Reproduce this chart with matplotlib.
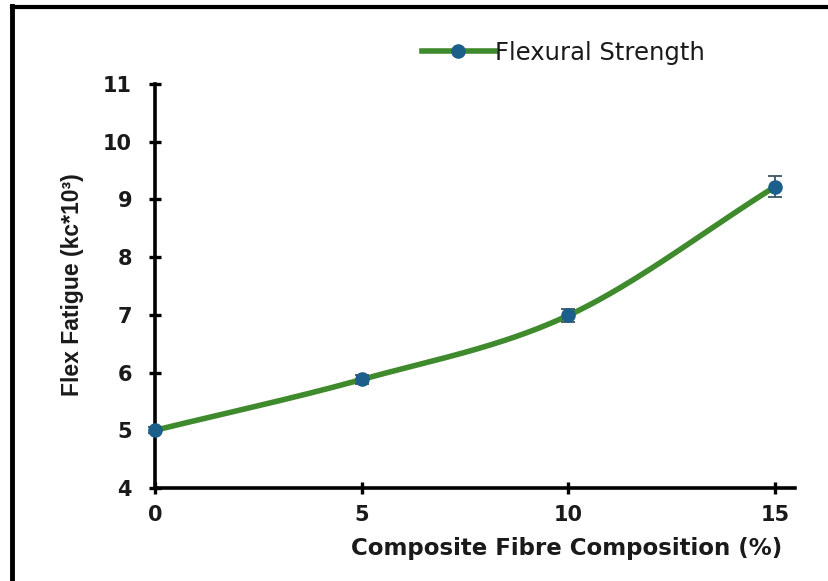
import numpy as np
import matplotlib
matplotlib.use("Agg")
import matplotlib.pyplot as plt
from matplotlib.lines import Line2D

composition = [0, 5, 10, 15]
flex_fatigue = [5.0, 5.88, 6.99, 9.22]
error = [0.05, 0.08, 0.12, 0.18]
series_name = "Flexural Strength"
x_ticks = [0, 5, 10, 15]
y_ticks = [4, 5, 6, 7, 8, 9, 10, 11]

W, H = 829, 581
fig = plt.figure(figsize=(W / 100, H / 100), dpi=100)
fig.patch.set_facecolor("white")

# partial image frame (left and top)
fig.add_artist(Line2D([12 / W, 12 / W], [0, 1 - 6 / H], color="black", lw=3.5, transform=fig.transFigure))
fig.add_artist(Line2D([12 / W, 1], [1 - 7 / H, 1 - 7 / H], color="black", lw=3.0, transform=fig.transFigure))

left, right, bottom, top = 155, 795, 488, 84
ax = fig.add_axes([left / W, 1 - bottom / H, (right - left) / W, (bottom - top) / H])
ax.set_xlim(0, 15 * (right - left) / (775 - left))
ax.set_ylim(4, 11)

# smooth curve (Catmull-Rom through data points)
def catmull(xs, ys, n=60):
    P = np.column_stack([xs, ys]).astype(float)
    P = np.vstack([2 * P[0] - P[1], P, 2 * P[-1] - P[-2]])
    out = []
    t = np.linspace(0, 1, n)[:, None]
    for i in range(1, len(P) - 2):
        p0, p1, p2, p3 = P[i - 1], P[i], P[i + 1], P[i + 2]
        seg = 0.5 * ((2 * p1) + (-p0 + p2) * t + (2 * p0 - 5 * p1 + 4 * p2 - p3) * t ** 2
                     + (-p0 + 3 * p1 - 3 * p2 + p3) * t ** 3)
        out.append(seg)
    S = np.vstack(out)
    return S[:, 0], S[:, 1]

green = "#3f8a2c"
blue = "#1c5f8a"
sx, sy = catmull(composition, flex_fatigue)
ax.plot(sx, sy, color=green, lw=4, solid_capstyle="round", zorder=3, clip_on=False)
ax.errorbar(composition, flex_fatigue, yerr=error, fmt="none", ecolor="#3d5566",
            elinewidth=1.3, capsize=5, capthick=1.3, zorder=4, clip_on=False)
ax.plot(composition, flex_fatigue, "o", color=blue, ms=9.5, zorder=5, clip_on=False)

for s in ["top", "right"]:
    ax.spines[s].set_visible(False)
for s in ["left", "bottom"]:
    ax.spines[s].set_linewidth(2.6)
    ax.spines[s].set_color("black")
ax.spines["left"].set_zorder(2)

ax.set_xticks(x_ticks)
ax.set_yticks(y_ticks)
ax.tick_params(direction="inout", length=9, width=2.4, color="black")
ax.tick_params(axis="y", pad=12)
ax.tick_params(axis="x", pad=8)
for lab in ax.get_xticklabels() + ax.get_yticklabels():
    lab.set_fontfamily("DejaVu Sans")
    lab.set_fontweight("bold")
    lab.set_fontsize(15)
    lab.set_color("#1a1a1a")

ax.set_xlabel("Composite Fibre Composition (%)", fontfamily="DejaVu Sans",
              fontweight="bold", fontsize=16.5, color="#1a1a1a")
ax.xaxis.set_label_coords((567 - left) / (right - left), -(537 - bottom) / (bottom - top))
ax.set_ylabel("Flex Fatigue (kc*10³)", fontfamily="Liberation Sans", fontweight="bold",
              fontsize=16.5, color="#1a1a1a")
ax.yaxis.set_label_coords(-(left - 84) / (right - left), (bottom - 285) / (bottom - top))

handle = Line2D([], [], color=green, lw=4, marker="o", ms=9.5, markerfacecolor=blue,
                markeredgecolor=blue)
leg = ax.legend([handle], [series_name], loc="center", frameon=False,
                bbox_to_anchor=(563 / W, 1 - 53 / H), bbox_transform=fig.transFigure,
                handlelength=3.0, handletextpad=0.0,
                prop={"family": "DejaVu Sans", "size": 17.5})
for t in leg.get_texts():
    t.set_color("#1a1a1a")

fig.savefig("out.png", dpi=100)
